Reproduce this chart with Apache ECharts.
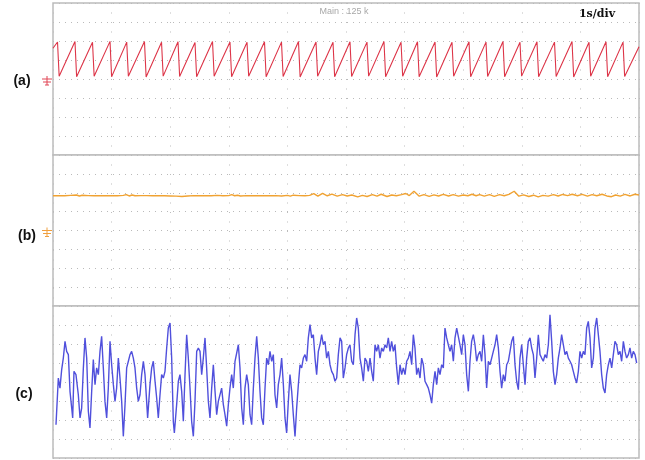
<!DOCTYPE html>
<html><head><meta charset="utf-8">
<script src="https://cdn.jsdelivr.net/npm/echarts/dist/echarts.min.js"></script>
<style>html,body{margin:0;padding:0;background:#fff}#c{width:645px;height:460px}</style>
</head><body><div id="c"></div>
<script>
// ---- data (time in s, level in divisions) ----
const panelLabels = ['(a)', '(b)', '(c)'];
const headerText = 'Main : 125 k';
const timebaseText = '1s/div';

const redTrace = [
[0,1.62],[0.077,1.95],[0.105,0.14],
[0.375,1.97],[0.403,0.12],[0.674,1.93],[0.702,0.15],[0.973,1.98],[1.0,0.12],
[1.258,1.94],[1.286,0.14],[1.561,1.97],[1.589,0.11],[1.852,1.93],[1.88,0.15],
[2.133,1.96],[2.161,0.13],[2.423,1.92],[2.451,0.12],[2.722,1.97],[2.75,0.14],
[3.02,1.95],[3.048,0.12],[3.311,1.93],[3.339,0.15],[3.609,1.96],[3.637,0.12],
[3.899,1.94],[3.927,0.13],[4.189,1.97],[4.217,0.11],[4.488,1.95],[4.516,0.14],
[4.778,1.93],[4.806,0.12],[5.068,1.96],[5.096,0.13],[5.358,1.94],[5.386,0.15],
[5.648,1.97],[5.676,0.12],[5.939,1.93],[5.967,0.14],[6.22,1.96],[6.248,0.12],
[6.519,1.95],[6.547,0.11],[6.809,1.93],[6.837,0.14],[7.099,1.96],[7.127,0.12],
[7.389,1.94],[7.417,0.13],[7.679,1.97],[7.707,0.12],[7.969,1.93],[7.997,0.15],
[8.259,1.96],[8.287,0.12],[8.558,1.94],[8.586,0.13],[8.857,1.97],[8.885,0.11],
[9.147,1.93],[9.175,0.14],[9.437,1.96],[9.465,0.12],[9.727,1.94],[9.755,0.13],
[10.0,1.7]
];

const orangeTrace = [
[0,1.84],[0.1,1.85],[0.2,1.84],[0.3,1.86],[0.4,1.88],[0.45,1.83],[0.5,1.87],[0.6,1.85],[0.7,1.84],
[0.8,1.85],[0.9,1.84],[1.0,1.85],[1.1,1.84],[1.2,1.86],[1.25,1.9],[1.3,1.83],[1.35,1.88],[1.4,1.84],
[1.5,1.85],[1.6,1.85],[1.7,1.84],[1.8,1.85],[1.9,1.84],[2.0,1.83],[2.1,1.82],[2.2,1.8],[2.3,1.83],
[2.4,1.85],[2.5,1.84],[2.6,1.85],[2.7,1.84],[2.8,1.86],[2.9,1.84],[3.0,1.85],[3.05,1.9],[3.1,1.84],
[3.15,1.87],[3.2,1.83],[3.3,1.85],[3.4,1.84],[3.5,1.85],[3.6,1.84],[3.7,1.84],[3.8,1.85],[3.9,1.83],
[4.0,1.86],[4.05,1.82],[4.1,1.87],[4.2,1.85],[4.3,1.84],[4.38,1.86],
[4.45,1.95],[4.52,1.82],[4.6,1.97],[4.68,1.84],[4.76,1.93],[4.85,1.82],[4.94,1.9],[5.02,1.83],
[5.1,1.88],[5.2,1.78],[5.28,1.86],[5.36,1.8],[5.45,1.9],[5.53,1.82],[5.6,1.92],[5.7,1.8],[5.78,1.88],
[5.86,1.84],[5.95,1.9],[6.02,1.96],[6.08,1.85],[6.16,2.08],[6.25,1.82],[6.33,1.9],[6.42,1.81],
[6.5,1.89],[6.58,1.83],[6.66,1.91],[6.75,1.83],[6.83,1.9],[6.92,1.82],[7.0,1.88],[7.08,1.84],
[7.15,1.92],[7.22,1.84],[7.28,1.9],[7.36,1.82],[7.45,1.9],[7.53,1.81],[7.62,1.9],[7.7,1.84],
[7.78,1.91],[7.87,2.08],[7.95,1.82],[8.03,1.89],[8.12,1.8],[8.2,1.87],[8.28,1.78],[8.36,1.86],
[8.45,1.82],[8.54,1.9],[8.62,1.83],[8.7,1.91],[8.78,1.85],[8.86,1.92],[8.95,1.84],[9.03,1.91],
[9.12,1.82],[9.2,1.9],[9.28,1.84],[9.37,1.92],[9.45,1.83],[9.53,1.79],[9.6,1.88],[9.68,1.82],
[9.76,1.91],[9.85,1.83],[9.93,1.92],[10.0,1.88]
];

const blueTrace = [
[0.051,-2.25],[0.091,0.21],[0.119,-0.32],[0.148,0.65],[0.176,1.26],[0.205,2.14],[0.233,1.61],[0.262,1.44],[0.290,-0.49],[0.319,-1.37],[0.336,-1.89],[0.358,0.56],[0.392,0.39],[0.432,-0.67],[0.461,-1.89],[0.489,-1.37],[0.518,0.74],[0.546,2.32],[0.575,1.26],[0.603,-1.54],[0.631,-2.42],[0.660,-0.49],[0.688,1.18],[0.717,-0.14],[0.745,0.74],[0.774,0.39],[0.802,1.61],[0.830,2.40],[0.859,0.74],[0.887,-1.02],[0.916,-1.89],[0.944,-0.32],[0.973,2.14],[1.001,0.91],[1.030,-0.14],[1.058,-1.02],[1.086,-0.32],[1.115,1.26],[1.143,0.21],[1.172,-1.02],[1.200,-2.86],[1.229,-1.19],[1.257,0.74],[1.286,1.09],[1.314,1.44],[1.342,1.61],[1.371,1.26],[1.399,0.74],[1.428,-0.32],[1.456,-1.02],[1.485,-0.67],[1.513,0.39],[1.542,1.09],[1.570,0.39],[1.598,-1.02],[1.615,-1.89],[1.655,-0.14],[1.684,0.74],[1.712,1.09],[1.741,0.04],[1.769,-0.84],[1.797,-1.89],[1.826,-0.67],[1.854,0.39],[1.883,0.21],[1.911,0.56],[1.940,1.79],[1.968,2.84],[1.997,3.11],[2.025,1.26],[2.053,-2.07],[2.071,-2.68],[2.110,-1.19],[2.139,0.04],[2.167,0.39],[2.196,-0.49],[2.224,-2.07],[2.253,0.39],[2.281,2.49],[2.309,1.26],[2.338,-0.32],[2.366,-2.07],[2.395,-2.86],[2.423,-1.02],[2.452,1.61],
[2.480,1.79],[2.509,1.61],[2.537,0.39],[2.565,1.26],[2.594,2.32],[2.622,0.74],[2.651,-1.02],[2.679,-1.89],[2.708,-0.32],[2.736,0.91],[2.765,-0.49],[2.793,-1.72],[2.821,-1.02],[2.850,-1.02],[2.878,-0.32],[2.907,-1.19],[2.935,-1.72],[2.964,-2.33],[2.992,-1.19],[3.020,-0.32],[3.049,0.39],[3.077,-0.32],[3.106,1.09],[3.134,1.09],[3.163,1.96],[3.191,0.74],[3.220,-1.37],[3.248,-2.25],[3.276,-0.32],[3.305,0.39],[3.333,-0.14],[3.362,-1.72],[3.390,-2.25],[3.419,-0.32],[3.447,1.26],[3.476,2.40],[3.504,1.26],[3.532,-0.49],[3.561,-1.89],[3.589,-2.25],[3.618,-0.32],[3.646,1.26],[3.675,0.91],[3.703,1.61],[3.732,1.09],[3.760,1.44],[3.788,-0.67],[3.817,-1.37],[3.845,-0.14],[3.874,0.39],[3.902,1.26],[3.931,-0.14],[3.959,-1.89],[3.987,-2.68],[4.016,-1.02],[4.044,0.39],[4.073,-0.49],[4.101,-1.72],[4.130,-2.86],[4.158,-1.37],[4.187,-0.14],[4.215,0.91],[4.243,0.74],[4.272,1.26],[4.300,1.44],[4.329,1.09],[4.357,2.32],[4.386,3.02],[4.414,2.32],[4.443,2.49],[4.471,1.26],[4.499,0.39],[4.528,1.61],[4.556,1.96],[4.585,2.49],[4.613,1.96],[4.642,2.14],[4.670,1.26],[4.699,1.61],[4.727,0.91],[4.755,0.56],[4.784,0.39],[4.812,0.04],[4.841,0.21],[4.869,1.44],[4.898,2.32],[4.926,2.14],
[4.954,0.21],[4.983,0.74],[5.011,1.44],[5.040,1.79],[5.068,1.96],[5.097,1.09],[5.125,0.91],[5.154,2.49],[5.182,3.37],[5.210,2.84],[5.239,1.26],[5.267,0.74],[5.296,0.04],[5.324,1.26],[5.353,1.09],[5.381,0.56],[5.410,1.26],[5.438,0.56],[5.466,0.04],[5.495,1.96],[5.523,1.61],[5.552,1.96],[5.580,1.26],[5.609,1.79],[5.637,1.61],[5.666,1.96],[5.694,1.79],[5.722,2.32],[5.751,1.61],[5.779,2.14],[5.808,1.61],[5.836,1.96],[5.865,0.74],[5.893,-0.14],[5.922,0.91],[5.950,0.39],[5.978,0.74],[6.007,0.39],[6.035,1.09],[6.064,1.26],[6.092,1.61],[6.121,0.91],[6.149,2.49],[6.177,1.79],[6.206,0.39],[6.234,0.74],[6.263,0.21],[6.291,1.26],[6.320,0.91],[6.348,0.04],[6.377,-0.14],[6.405,-0.32],[6.433,-0.67],[6.462,-1.11],[6.490,-0.14],[6.519,0.56],[6.547,-0.14],[6.576,0.74],[6.604,0.39],[6.633,0.91],[6.661,0.74],[6.689,2.84],[6.718,2.32],[6.746,1.96],[6.775,1.61],[6.803,1.96],[6.832,1.09],[6.860,2.32],[6.889,2.84],[6.917,2.93],[6.945,1.96],[6.974,1.44],[7.002,2.49],[7.031,1.96],[7.059,0.39],[7.088,-0.49],[7.116,1.09],[7.144,2.14],[7.173,2.49],[7.201,1.96],[7.230,1.09],[7.258,1.44],[7.287,1.61],[7.315,1.09],[7.344,2.49],[7.372,1.44],[7.400,-0.32],
[7.429,1.09],[7.457,0.91],[7.486,1.26],[7.514,1.61],[7.543,1.96],[7.571,2.49],[7.600,1.79],[7.628,0.56],[7.656,-0.32],[7.685,0.39],[7.713,0.04],[7.742,0.91],[7.770,1.09],[7.799,1.61],[7.827,2.14],[7.856,2.40],[7.884,0.91],[7.912,0.04],[7.941,-0.40],[7.969,1.26],[7.998,1.96],[8.026,0.91],[8.055,-0.14],[8.083,1.26],[8.111,2.14],[8.140,2.32],[8.168,1.79],[8.197,1.44],[8.225,0.21],[8.254,1.26],[8.282,2.49],[8.311,1.44],[8.339,1.26],[8.367,1.09],[8.396,1.44],[8.424,1.26],[8.453,1.96],[8.481,3.54],[8.510,2.14],[8.538,0.56],[8.567,-0.14],[8.595,0.39],[8.623,1.26],[8.652,1.79],[8.680,2.49],[8.709,1.96],[8.737,1.44],[8.766,1.61],[8.794,1.26],[8.823,1.09],[8.851,0.91],[8.879,0.56],[8.908,0.21],[8.936,-0.05],[8.965,0.56],[8.993,1.61],[9.022,1.26],[9.050,1.61],[9.078,1.44],[9.107,2.84],[9.135,3.19],[9.164,2.32],[9.192,0.74],[9.221,1.26],[9.249,2.84],[9.278,3.37],[9.306,2.49],[9.334,1.61],[9.363,0.39],[9.391,-0.32],[9.420,-0.58],[9.448,0.39],[9.477,0.91],[9.505,1.26],[9.534,0.74],[9.562,1.44],[9.590,2.14],[9.619,1.96],[9.647,1.44],[9.676,1.61],[9.704,1.09],[9.733,2.14],[9.761,1.61],[9.789,1.26],[9.818,1.44],[9.846,1.79],[9.875,1.26],[9.903,1.61],[9.932,1.44],[9.960,1.00]
];

// ---- chart ----
const chart = echarts.init(document.getElementById('c'), null, {renderer: 'canvas'});
const gridBoxes = [
  {left: 53, right: 6, top: 3, height: 152},
  {left: 53, right: 6, top: 155, height: 151},
  {left: 53, right: 6, top: 306, height: 152}
];
const grid = gridBoxes.map(g => Object.assign({show: true, borderColor: '#bcbcbc', borderWidth: 1.5, backgroundColor: '#fff'}, g));
const xAxis = gridBoxes.map((g, i) => ({
  gridIndex: i, type: 'value', min: 0, max: 10, interval: 1,
  axisLine: {show: false}, axisTick: {show: false}, axisLabel: {show: false},
  splitLine: {show: true, lineStyle: {color: '#bdbdbd', width: 1, type: [1, 8.5]}}
}));
const yAxis = gridBoxes.map((g, i) => ({
  gridIndex: i, type: 'value', min: -4, max: 4, interval: 1,
  axisLine: {show: false}, axisTick: {show: false}, axisLabel: {show: false},
  splitLine: {show: true, lineStyle: {color: '#bababa', width: 1, type: [1, 5]}}
}));
const traces = [
  {data: redTrace, color: '#dd3548', width: 1.1},
  {data: orangeTrace, color: '#f0a232', width: 1.4},
  {data: blueTrace, color: '#5050dc', width: 1.4}
];
const series = traces.map((t, i) => ({
  type: 'line', xAxisIndex: i, yAxisIndex: i, data: t.data, showSymbol: false,
  lineStyle: {color: t.color, width: t.width}, animation: false, silent: true
}));

chart.setOption({animation: false, grid, xAxis, yAxis, series});

// decorations: labels, header, ground markers
const graphic = [];
const labelPos = [[22, 81], [27, 236], [24, 394]];
panelLabels.forEach((txt, i) => {
  graphic.push({type: 'text', style: {text: txt, x: labelPos[i][0], y: labelPos[i][1], textAlign: 'center', textVerticalAlign: 'middle',
    font: 'bold 14px "Liberation Sans", Arial, sans-serif', fill: '#111'}});
});
graphic.push({type: 'text', style: {text: headerText, x: 344, y: 12, textAlign: 'center', textVerticalAlign: 'middle',
  font: '9px "Liberation Sans", Arial, sans-serif', fill: '#a8a8a8'}});
graphic.push({type: 'text', style: {text: timebaseText, x: 597, y: 14, textAlign: 'center', textVerticalAlign: 'middle',
  font: 'bold 11px "DejaVu Serif", "Liberation Serif", serif', fill: '#111'}});

const groundColors = ['#e04455', '#f0a040'];
groundColors.forEach((col, i) => {
  const p = chart.convertToPixel({gridIndex: i}, [0, 0]);
  const cx = p[0] - 6, y0 = p[1];
  const seg = (x1, y1, x2, y2) => ({type: 'line', shape: {x1, y1, x2, y2}, style: {stroke: col, lineWidth: 1}});
  graphic.push(seg(cx, y0 - 3, cx, y0 + 6));
  graphic.push(seg(cx - 5, y0, cx + 5, y0));
  graphic.push(seg(cx - 4, y0 + 3, cx + 4, y0 + 3));
  graphic.push(seg(cx - 2, y0 + 6, cx + 2, y0 + 6));
});
chart.setOption({graphic});
</script>
</body></html>
